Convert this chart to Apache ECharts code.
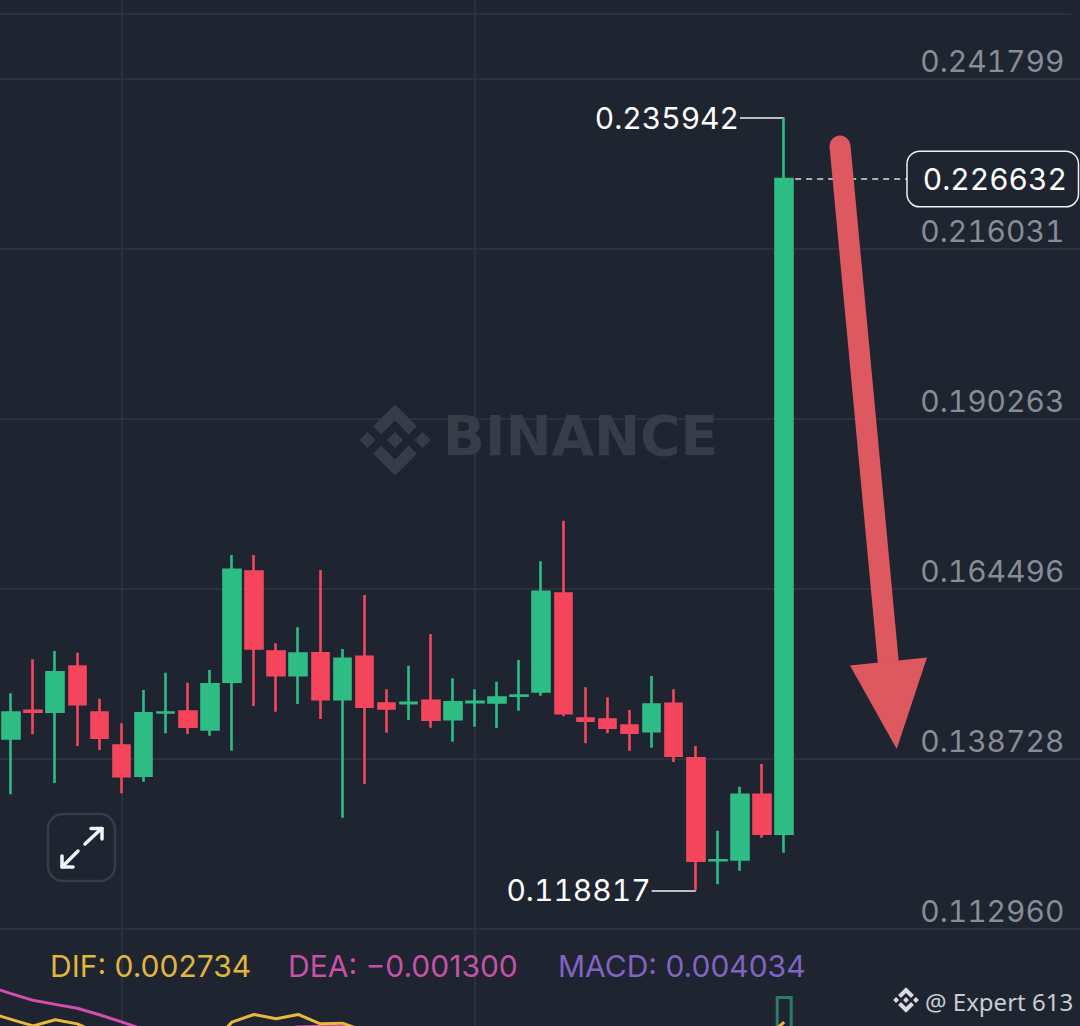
<!DOCTYPE html>
<html><head><meta charset="utf-8">
<style>html,body{margin:0;padding:0;background:#1e2430;overflow:hidden}#c{width:1080px;height:1026px}
#c text{font-variant-numeric:tabular-nums;font-feature-settings:"tnum" 1}</style>
<script src="https://cdn.jsdelivr.net/npm/echarts@6/dist/echarts.min.js"></script>
</head><body><div id="c"></div>
<script>
// Slot 0 is the candle that sits just off the left edge of the picture.
const categories = Array.from({length: 50}, (_, i) => 'k' + i);
const opens  = ['-',.141838,.146037,.145885,.152752,.145780,.140777,.136184,.145779,.145931,.143202,.150432,.167152,.155026,.151433,.154768,.147795,.154223,.147144,.147189,.147553,.144763,.147340,.147295,.148310,.148962,.163818,.144870,.144719,.143809,.142944,.147098,.138852,.123390,.123497,.133305,.127392];
const closes = ['-',.145780,.145885,.151888,.147037,.141944,.136123,.145674,.145780,.143611,.150069,.167410,.155480,.151433,.154723,.147795,.153919,.146643,.146385,.147250,.144672,.147341,.147402,.148053,.148356,.164075,.145673,.144521,.143460,.142702,.146992,.139215,.123300,.123392,.133305,.127392,.226632];
const lows   = ['-',.133380,.142475,.135093,.140701,.140095,.133532,.135290,.142626,.142520,.142263,.139989,.146765,.145901,.147068,.144794,.129833,.134941,.142717,.144642,.143475,.141353,.143627,.143430,.146052,.148326,.145203,.141111,.142626,.139989,.140444,.138276,.118817,.119738,.121799,.126801,.124528];
const highs  = ['-',.148690,.153843,.155101,.154844,.147871,.144142,.149190,.151812,.150296,.152221,.169653,.169653,.156269,.158694,.167379,.155405,.163590,.149296,.152873,.157678,.150963,.149296,.150448,.153737,.168698,.174852,.149599,.148083,.146158,.151312,.149296,.140701,.127862,.134532,.137973,.235942];
const dif = [.0032,.002875,.00255,.00285,.00265,.00215,.0016,.0012,.0009,.0011,.00155,.002735,.003115,.0029,.003115,.00265,.002685,.0023,.0015,'-','-','-','-','-','-','-','-','-','-','-','-','-','-','-','-',.0018,.002734];
const dea = [.0045,.00415,.003815,.003615,.00342,.0031,.00275,.002375,.002,.0016,.00145,.0016,.00195,.002375,.0025,.002535,.002525,.002425,.0022,'-'];
const macd = {slot: 'k36', value: .004034};
const priceTicks = [0.112960,0.138728,0.164496,0.190263,0.216031,0.241799];
const paneTop = 0.25166;
const lastPrice = 0.226632, highestPrice = 0.235942, lowestPrice = 0.118817;
const legendTexts = [['DIF: 0.002734','#e2b53e',50],['DEA: \u22120.001300','#c652a8',288],['MACD: 0.004034','#8263c2',558]];
const slotOfVertical = ['k6','k22'];

const bg='#1e2430', grid='#2f3541', green='#2ebd85', red='#f6465d', FONT='Inter, "Noto Sans", sans-serif';

function logo(cx,cy,size,fill,z){
  const s=size/126, P=a=>a.map(p=>[cx+(p[0]-63)*s,cy+(p[1]-63)*s]);
  const parts=[
   [[38.73,53.2],[63,28.94],[87.28,53.22],[101.4,39.1],[63,.7],[24.6,39.09]],
   [[.7,63],[14.82,48.88],[28.94,63],[14.82,77.12]],
   [[63,48.88],[77.12,63],[63,77.12],[48.88,63]],
   [[97.06,63],[111.18,48.88],[125.3,63],[111.18,77.12]],
   [[87.27,72.8],[63,97.06],[38.73,72.8],[24.6,86.91],[63,125.3],[101.4,86.91]]];
  return parts.map(p=>({type:'polygon',silent:true,z,shape:{points:P(p)},style:{fill}}));
}
const ln=(x1,y1,x2,y2,w,c,z)=>({type:'line',silent:true,z,shape:{x1,y1,x2,y2},style:{stroke:c,lineWidth:w,lineCap:'round'}});

const graphics=[
  ...logo(395,440,72,'#373d48',1),
  {type:'text',silent:true,z:1,left:443,top:408,style:{text:'BINANCE',fill:'#373d48',font:'700 55px "DejaVu Sans", sans-serif'}},
  {type:'rect',silent:true,z:30,shape:{x:48,y:814,width:67,height:67,r:15},style:{fill:bg,stroke:'#373d48',lineWidth:2.5}},
  ln(85,844,101,829,3.5,'#f2f3f5',31),ln(91,828.5,102,828.5,3.5,'#f2f3f5',31),ln(102,828.5,102,839,3.5,'#f2f3f5',31),
  ln(78,851,63,866,3.5,'#f2f3f5',31),ln(62,856,62,867,3.5,'#f2f3f5',31),ln(62,867,73,867,3.5,'#f2f3f5',31),
  ln(840,146,889,670,21,'#dd585f',40),
  {type:'polygon',silent:true,z:40,shape:{points:[[850,665.5],[927,657.5],[896.7,749]]},style:{fill:'#dd585f'}},
  ...legendTexts.map(t=>({type:'text',silent:true,z:20,left:t[2],top:951,style:{text:t[0],fill:t[1],font:'400 30px '+FONT}})),
  ...logo(906,1000,26,'#d9dbe0',50),
  {type:'text',silent:true,z:50,left:925,top:989,style:{text:'@ Expert 613',fill:'#c9ccd3',font:'400 24px "Noto Sans", sans-serif'}}
];

const chart=echarts.init(document.getElementById('c'),null,{renderer:'svg'});
const vertical={show:true,alignWithLabel:true,interval:(i,v)=>slotOfVertical.includes(v),lineStyle:{color:grid,width:1.5}};
const calloutLabel=t=>({show:true,position:'start',distance:1,formatter:t,color:'#fff',fontSize:30,fontFamily:FONT,padding:[3,0,0,0]});
chart.setOption({
  animation:false,backgroundColor:bg,
  grid:[{left:-22.09,top:0,width:1104.5,height:929,outerBoundsMode:'none',containLabel:false},{left:-22.09,top:929,width:1104.5,height:111,outerBoundsMode:'none',containLabel:false}],
  xAxis:[0,1].map(g=>({type:'category',gridIndex:g,data:categories,boundaryGap:true,axisLine:{show:false},axisTick:{show:false},axisLabel:{show:false},splitLine:vertical})),
  yAxis:[
   {type:'value',gridIndex:0,position:'right',scale:true,min:0.112960,max:0.253778,axisLine:{show:false},
    axisTick:{show:false,customValues:priceTicks},
    axisLabel:{show:true,inside:true,margin:18,customValues:priceTicks,formatter:v=>v.toFixed(6),color:'#878c95',fontSize:30,fontFamily:FONT,verticalAlign:'bottom',lineHeight:36,align:'right'},
    splitLine:{show:true,lineStyle:{color:grid,width:1.5}}},
   {type:'value',gridIndex:1,min:0.00185,max:0.00735,axisLine:{show:false},axisTick:{show:false},axisLabel:{show:false},splitLine:{show:false}}
  ],
  series:[
   {type:'candlestick',xAxisIndex:0,yAxisIndex:0,barWidth:17,z:3,
    data:opens.map((o,i)=>o==='-'?'-':[o,closes[i],lows[i],highs[i]]),
    itemStyle:{color:green,color0:red,borderColor:green,borderColor0:red,borderColorDoji:green,borderWidth:2.6},
    markLine:{silent:true,symbol:'none',z:1,animation:false,precision:6,
      data:[
        [{coord:['k34',highestPrice],lineStyle:{color:'#f0f1f3',width:1.5,type:'solid'},label:calloutLabel('0.235942')},{coord:['k36',highestPrice]}],
        [{coord:['k30',lowestPrice],lineStyle:{color:'#f0f1f3',width:1.5,type:'solid'},label:calloutLabel('0.118817')},{coord:['k32',lowestPrice]}],
        [{coord:['k36',lastPrice],lineStyle:{color:'#d9dbe0',width:1.5,type:[6,5]},label:{show:true,position:'end',distance:-9,formatter:'0.226632',color:'#fff',fontSize:30,fontFamily:FONT,backgroundColor:bg,borderColor:'#f0f1f3',borderWidth:1.5,borderRadius:12,padding:[13,15,11,15],width:140,align:'left'}},{coord:['k42',lastPrice]}],
        [{coord:['k0',paneTop],lineStyle:{color:grid,width:1.5,type:'solid'},label:{show:false}},{coord:['k49',paneTop]}]
      ]}},
   {type:'line',xAxisIndex:1,yAxisIndex:1,data:dif,showSymbol:false,symbol:'none',connectNulls:false,lineStyle:{color:'#e8b93c',width:3},z:4},
   {type:'line',xAxisIndex:1,yAxisIndex:1,data:dea,showSymbol:false,symbol:'none',connectNulls:false,lineStyle:{color:'#d34fae',width:3},z:3},
   {type:'bar',xAxisIndex:1,yAxisIndex:1,barWidth:17,z:2,data:categories.map(c=>c===macd.slot?macd.value:'-'),itemStyle:{color:'rgba(0,0,0,0)',borderColor:'#2c7a68',borderWidth:3}}
  ],
  graphic:graphics
});
</script></body></html>
